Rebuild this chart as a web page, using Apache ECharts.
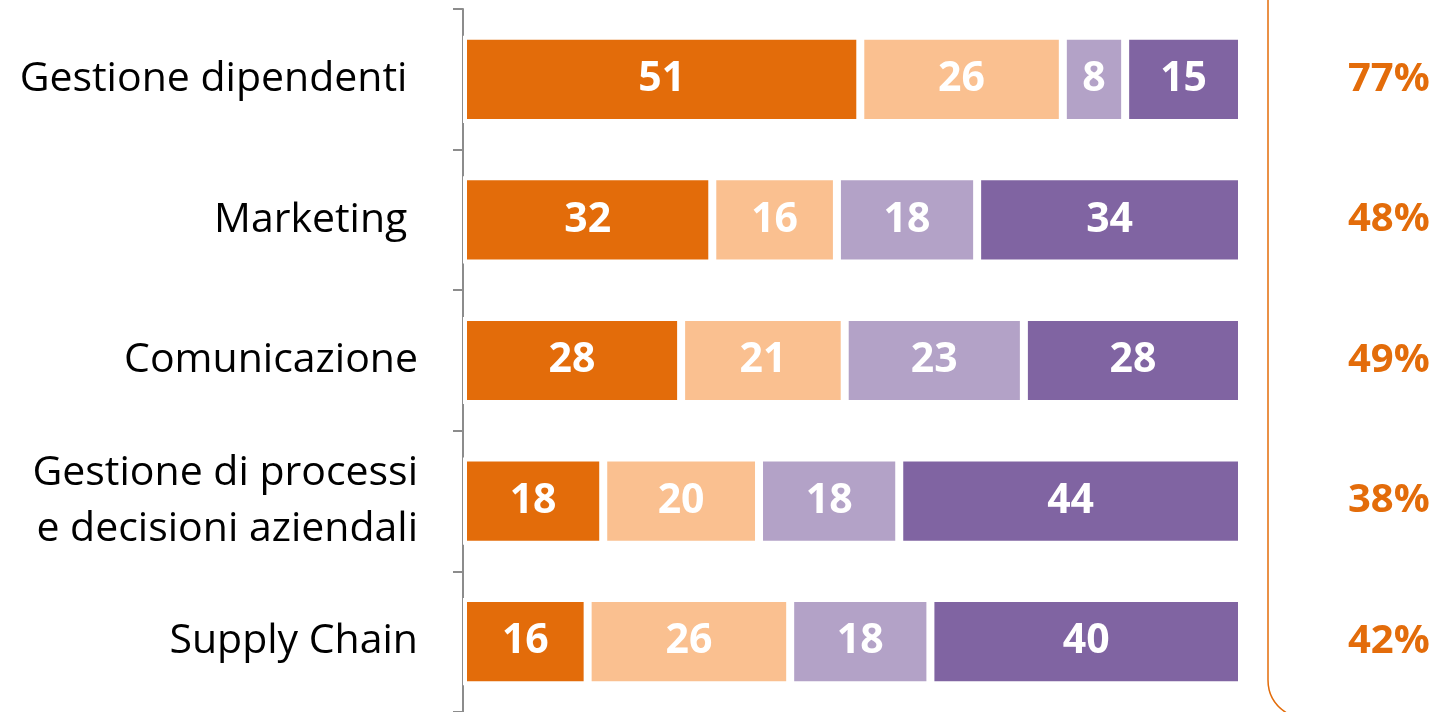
<!DOCTYPE html>
<html>
<head>
<meta charset="utf-8">
<script src="https://cdn.jsdelivr.net/npm/echarts@6/dist/echarts.min.js"></script>
<style>
  html, body { margin: 0; padding: 0; background: #fff; }
  #chart { width: 1437px; height: 712px; }
</style>
</head>
<body>
<div id="chart"></div>
<script>
// categorie (dall'alto in basso)
var categorie = ['Gestione dipendenti ', 'Marketing ', 'Comunicazione', 'Gestione di processi\ne decisioni aziendali', 'Supply Chain'];
// quattro segmenti di ogni barra
var serieA = [51, 32, 28, 18, 16];
var serieB = [26, 16, 21, 20, 26];
var serieC = [8, 18, 23, 18, 18];
var serieD = [15, 34, 28, 44, 40];
// percentuali a destra
var percentuali = ['77%', '48%', '49%', '38%', '42%'];

var colori = ['#E36C0A', '#FAC090', '#B3A2C7', '#8064A2'];
var font = '"Open Sans", Lato, sans-serif';

function serie(nome, dati, colore) {
  return {
    name: nome,
    type: 'bar',
    stack: 'tot',
    barWidth: '62%',
    data: dati,
    itemStyle: { color: colore, borderColor: '#fff', borderWidth: 4 },
    label: {
      show: true,
      position: 'inside',
      color: '#fff',
      fontFamily: font,
      fontWeight: 'bold',
      fontSize: 41
    }
  };
}

var myChart = echarts.init(document.getElementById('chart'));
myChart.setOption({
  animation: false,
  grid: { left: 463, top: 9, width: 779, height: 705 },
  xAxis: { type: 'value', min: 0, max: 100, show: false },
  yAxis: [
    {
      type: 'category',
      data: categorie,
      inverse: true,
      axisLine: { show: true, lineStyle: { color: '#8c8c8c', width: 2 } },
      axisTick: { show: true, interval: 0, length: 10, lineStyle: { color: '#8c8c8c', width: 2 } },
      axisLabel: { color: '#000', fontFamily: font, fontSize: 41, margin: 45, lineHeight: 56, align: 'right' }
    },
    {
      type: 'category',
      data: percentuali,
      inverse: true,
      position: 'right',
      axisLine: { show: false },
      axisTick: { show: false },
      axisLabel: { color: '#E36C0A', fontFamily: font, fontWeight: 'bold', fontSize: 40, margin: 106 }
    }
  ],
  series: [
    serie('A', serieA, colori[0]),
    serie('B', serieB, colori[1]),
    serie('C', serieC, colori[2]),
    serie('D', serieD, colori[3])
  ],
  graphic: [
    {
      type: 'line',
      shape: { x1: 1268, y1: -5, x2: 1268, y2: 680 },
      style: { stroke: '#E36C0A', lineWidth: 1.5 }
    },
    {
      type: 'bezierCurve',
      shape: { x1: 1268, y1: 680, cpx1: 1268, cpy1: 704, x2: 1292, y2: 716 },
      style: { fill: null, stroke: '#E36C0A', lineWidth: 1.5 }
    }
  ]
});
</script>
</body>
</html>
